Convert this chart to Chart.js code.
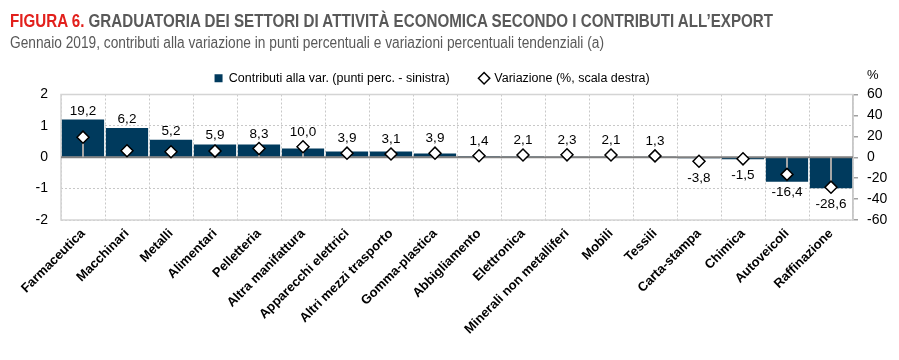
<!DOCTYPE html>
<html>
<head>
<meta charset="utf-8">
<script src="https://cdn.jsdelivr.net/npm/chart.js@4.4.1/dist/chart.umd.min.js"></script>
<style>
  html, body { margin: 0; padding: 0; background: #fff; }
  #wrap { position: relative; width: 899px; height: 360px; overflow: hidden; }
  .hdr { position: absolute; left: 10px; font-family: "Liberation Sans", Arial, sans-serif; color: #595959; white-space: nowrap; transform-origin: 0 0; }
  #title { top: 10px; font-weight: bold; font-size: 19px; }
  #title span { color: #e2201c; }
  #sub { top: 34px; font-size: 16px; }
  canvas { position: absolute; left: 0; top: 0; }
</style>
</head>
<body>
<div id="wrap">
  <canvas id="c" width="899" height="360"></canvas>
  <div id="title" class="hdr"><span>FIGURA 6.</span> GRADUATORIA DEI SETTORI DI ATTIVITÀ ECONOMICA SECONDO I CONTRIBUTI ALL’EXPORT</div>
  <div id="sub" class="hdr">Gennaio 2019, contributi alla variazione in punti percentuali e variazioni percentuali tendenziali (a)</div>
</div>
<script>
const categories = ["Farmaceutica","Macchinari","Metalli","Alimentari","Pelletteria","Altra manifattura","Apparecchi elettrici","Altri mezzi trasporto","Gomma-plastica","Abbigliamento","Elettronica","Minerali non metalliferi","Mobili","Tessili","Carta-stampa","Chimica","Autoveicoli","Raffinazione"];
const contributi = [1.20, 0.93, 0.56, 0.41, 0.41, 0.28, 0.18, 0.18, 0.12, 0.04, 0.03, 0.02, 0.01, 0.01, -0.03, -0.06, -0.78, -0.99];
const variazione = [19.2, 6.2, 5.2, 5.9, 8.3, 10.0, 3.9, 3.1, 3.9, 1.4, 2.1, 2.3, 2.1, 1.3, -3.8, -1.5, -16.4, -28.6];
const leftTicks = [-2, -1, 0, 1, 2];
const rightTicks = [-60, -40, -20, 0, 20, 40, 60];

// condense header text to the reference widths
function fitWidth(id, w) {
  const el = document.getElementById(id);
  const actual = el.getBoundingClientRect().width;
  el.style.transform = 'scaleX(' + (w / actual) + ')';
}
fitWidth('title', 763);
fitWidth('sub', 594);

const FONT = '"Liberation Sans", Arial, sans-serif';
const BAR = '#003a5d';

const decorPlugin = {
  id: 'decor',
  beforeDatasetsDraw(chart) {
    const {ctx, chartArea: a} = chart;
    ctx.save();
    ctx.strokeStyle = '#d4d4d4';
    ctx.lineWidth = 1.5;
    ctx.strokeRect(a.left, a.top, a.right - a.left, a.bottom - a.top);
    ctx.restore();
  },
  beforeDatasetDraw(chart, args) {
    const {ctx, scales} = chart;
    if (args.index === 1) {
      const y0 = scales.y.getPixelForValue(0);
      ctx.save();
      ctx.strokeStyle = '#7f7f7f';
      ctx.lineWidth = 2;
      ctx.beginPath();
      ctx.moveTo(chart.chartArea.left, y0);
      ctx.lineTo(chart.chartArea.right, y0);
      ctx.stroke();
      const meta = chart.getDatasetMeta(1);
      const yz = scales.y1.getPixelForValue(0);
      ctx.strokeStyle = '#a6a6a6';
      ctx.lineWidth = 2;
      meta.data.forEach(p => {
        ctx.beginPath();
        ctx.moveTo(p.x, yz);
        ctx.lineTo(p.x, p.y);
        ctx.stroke();
      });
      ctx.restore();
    }
  },
  afterDatasetsDraw(chart) {
    const {ctx} = chart;
    const bars = chart.getDatasetMeta(0).data;
    const pts = chart.getDatasetMeta(1).data;
    ctx.save();
    ctx.font = '13.5px ' + FONT;
    ctx.fillStyle = '#000';
    ctx.textAlign = 'center';
    const r = 6;
    variazione.forEach((v, i) => {
      const b = bars[i], p = pts[i];
      const txt = v.toFixed(1).replace('.', ',');
      if (v >= 0) {
        const top = Math.min(b.y, p.y - r);
        ctx.textBaseline = 'bottom';
        ctx.fillText(txt, p.x, top - 2);
      } else {
        const bot = Math.max(b.y, p.y + r);
        ctx.textBaseline = 'top';
        ctx.fillText(txt, p.x, bot + 4);
      }
    });
    const s = chart.scales.y1;
    ctx.font = '13px ' + FONT;
    ctx.textBaseline = 'middle';
    ctx.textAlign = 'left';
    ctx.fillText('%', s.left + 14, chart.chartArea.top - 19);
    ctx.restore();
  }
};

new Chart(document.getElementById('c'), {
  data: {
    labels: categories,
    datasets: [
      {
        type: 'bar',
        label: 'Contributi alla var. (punti perc. - sinistra)',
        data: contributi,
        backgroundColor: BAR,
        borderWidth: 0,
        barPercentage: 0.96,
        categoryPercentage: 1.0,
        yAxisID: 'y',
        order: 2
      },
      {
        type: 'line',
        label: 'Variazione (%, scala destra)',
        data: variazione,
        showLine: false,
        pointStyle: 'rectRot',
        pointRadius: 6,
        pointHoverRadius: 6,
        pointBackgroundColor: '#ffffff',
        pointBorderColor: '#000000',
        pointBorderWidth: 1.5,
        backgroundColor: '#ffffff',
        borderColor: '#000000',
        yAxisID: 'y1',
        order: 1
      }
    ]
  },
  options: {
    responsive: false,
    animation: false,
    events: [],
    layout: { padding: { top: 59, left: 0, right: 0, bottom: 0 } },
    plugins: {
      tooltip: { enabled: false },
      legend: {
        position: 'top',
        labels: {
          usePointStyle: true,
          font: { family: FONT, size: 12.5 },
          color: '#000',
          boxWidth: 8,
          boxHeight: 8,
          padding: 13,
          generateLabels(chart) {
            return [
              { text: chart.data.datasets[0].label + '     ', fillStyle: BAR, strokeStyle: BAR, lineWidth: 0, pointStyle: 'rect', datasetIndex: 0, fontColor: '#000' },
              { text: chart.data.datasets[1].label + '          ', fillStyle: '#fff', strokeStyle: '#000', lineWidth: 1.5, pointStyle: 'rectRot', datasetIndex: 1, fontColor: '#000' }
            ];
          }
        }
      }
    },
    scales: {
      x: {
        offset: true,
        grid: { display: true, offset: true, color: '#c8c8c8', lineWidth: 1, drawTicks: false },
        border: { display: false, dash: [2, 2] },
        ticks: {
          autoSkip: false,
          maxRotation: 45,
          minRotation: 45,
          padding: 6,
          color: '#000',
          font: { family: FONT, size: 13, weight: 'bold' }
        },
        afterFit(s) { s.height = 140; }
      },
      y: {
        position: 'left',
        min: -2, max: 2,
        afterBuildTicks(s) { s.ticks = leftTicks.map(v => ({ value: v })); },
        grid: { color: '#c8c8c8', lineWidth: 1, drawTicks: false },
        border: { display: false, dash: [2, 2] },
        ticks: { autoSkip: false, color: '#000', padding: 13, font: { family: FONT, size: 14 } },
        afterFit(s) { s.width = 61; }
      },
      y1: {
        position: 'right',
        min: -60, max: 60,
        afterBuildTicks(s) { s.ticks = rightTicks.map(v => ({ value: v })); },
        grid: { drawOnChartArea: false, drawTicks: true, tickLength: 5, color: '#a0a0a0', lineWidth: 1.5 },
        border: { display: true, color: '#a0a0a0', width: 1.5 },
        ticks: { autoSkip: false, color: '#000', padding: 9, font: { family: FONT, size: 14 } },
        afterFit(s) { s.width = 46; }
      }
    }
  },
  plugins: [decorPlugin]
});
</script>
</body>
</html>
